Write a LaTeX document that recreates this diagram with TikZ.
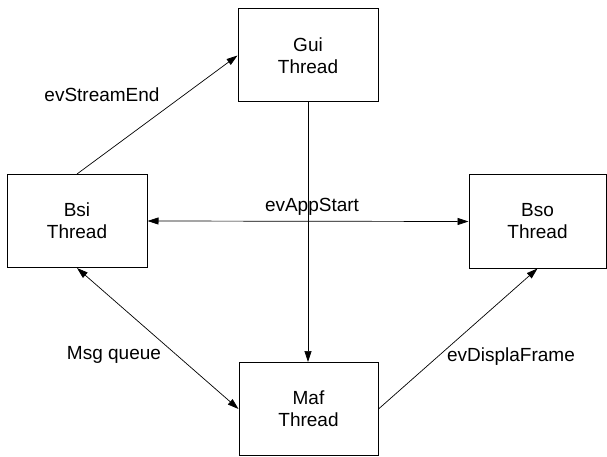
\documentclass[tikz,border=0pt]{standalone}
\usepackage{fontspec}
\setmainfont{Liberation Sans}
\usetikzlibrary{arrows.meta}
\tikzset{thread/.style={draw,line width=1pt,align=center,minimum width=140pt,minimum height=93pt,font=\fontsize{19}{22}\selectfont},
  msg/.style={font=\fontsize{19}{22}\selectfont},
  >={Triangle[length=11pt,width=7pt]}}

\begin{document}
\begin{tikzpicture}[x=1pt,y=-1pt,line width=0.7pt]
        \useasboundingbox (0,0) rectangle (607,457);
        \node[thread] (gui) at (308,55.5) {Gui\\Thread};
        \node[thread] (bsi) at (77,221) {Bsi\\Thread};
        \node[thread,minimum width=137pt] (bso) at (537.5,221.5) {Bso\\Thread};
        \node[thread,minimum width=139pt] (maf) at (308.5,409) {Maf\\Thread};

        \draw[->] (bsi.north) -- (gui.west);
        \draw[<->] (bsi.east) -- (bso.west);
        \draw[->] (gui.south) -- (gui.south |- maf.north);
        \draw[<->] (bsi.south) -- (maf.west);
        \draw[->] (maf.east) -- (bso.south);

        \node[msg] (streamend) at (102,95) {evStreamEnd};
        \node[msg] (appstart) at (312,207) {evAppStart};
        \node[msg] (queue) at (114,355) {Msg queue};
        \node[msg] (display) at (511,357) {evDisplaFrame};
    \end{tikzpicture}
\end{document}
